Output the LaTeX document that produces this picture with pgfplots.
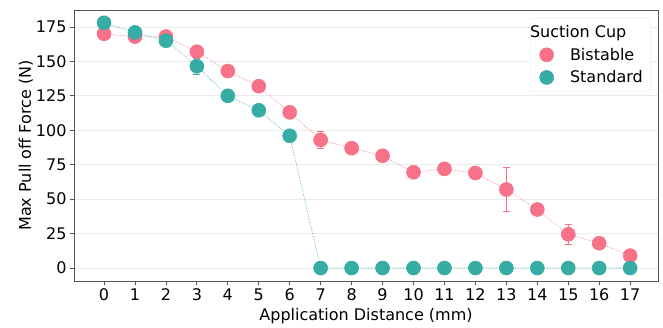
\documentclass[border=0pt]{standalone}
\usepackage{pgfplots}
\pgfplotsset{compat=1.18}
\usepackage{fontspec}
\setmainfont{DejaVu Sans}
\definecolor{cpink}{HTML}{F77189}
\definecolor{cteal}{HTML}{36ADA4}
\definecolor{frame}{HTML}{555555}
\definecolor{gridc}{HTML}{EBEBEB}
\begin{document}
\begin{tikzpicture}
\begin{axis}[
  scale only axis, width=584pt, height=271pt,
  at={(0,0)}, anchor=south west,
  xmin=-0.97, xmax=17.9, ymin=-9.4, ymax=187.3,
  xtick={0,...,17}, ytick={0,25,...,175},
  /pgf/number format/assume math mode=true,
  tick label style={font=\fontsize{16}{18}\selectfont, text=black},
  label style={font=\fontsize{16}{18}\selectfont},
  xlabel={Application Distance (mm)},
  ylabel={Max Pull off Force (N)},
  xlabel style={yshift=-1pt},
  ylabel style={yshift=-4pt},
  axis line style={frame, line width=0.9pt},
  tick style={frame, line width=0.8pt},
  tick align=outside, major tick length=4pt,
  xtick pos=bottom, ytick pos=left,
  ymajorgrids, grid style={gridc, line width=0.8pt},
  legend style={at={(0.988,0.97)}, anchor=north east, draw=gridc, rounded corners=3pt,
    font=\fontsize{16}{18}\selectfont, row sep=5pt, inner xsep=6pt, inner ysep=5pt},
  legend cell align=left,
  legend image code/.code={\path[draw=none] (-0.1cm,0) -- (1.0cm,0); \fill[#1,solid] (0.25cm,0) circle (7pt);},
]
\addlegendimage{empty legend}
\addlegendentry{\hspace*{-40pt}Suction Cup}
\addplot[cpink, densely dotted, line width=0.6pt,
  mark=*, mark size=7pt, mark options={solid, fill=cpink, draw=cpink},
  error bars/.cd, y dir=both, y explicit,
  error bar style={cpink, solid, line width=0.8pt},
  error mark options={rotate=90, mark size=3.5pt, cpink, solid}]
coordinates {
(0,170) +- (0,0.5)
(1,168) +- (0,1)
(2,168) +- (0,1)
(3,157) +- (0,1.5)
(4,143) +- (0,1)
(5,132) +- (0,1)
(6,113) +- (0,1)
(7,93) +- (0,6)
(8,87) +- (0,4)
(9,81.5) +- (0,1)
(10,69.5) +- (0,1)
(11,72) +- (0,1)
(12,69) +- (0,1)
(13,57) +- (0,16)
(14,42.5) +- (0,1)
(15,24.5) +- (0,7)
(16,18) +- (0,1)
(17,9) +- (0,1)
};
\addlegendentry{Bistable}
\addplot[cteal, densely dotted, line width=0.6pt,
  mark=*, mark size=7pt, mark options={solid, fill=cteal, draw=cteal},
  error bars/.cd, y dir=both, y explicit,
  error bar style={cteal, solid, line width=0.8pt},
  error mark options={rotate=90, mark size=3.5pt, cteal, solid}]
coordinates {
(0,178) +- (0,0.5)
(1,171) +- (0,1)
(2,165) +- (0,3)
(3,146.5) +- (0,6)
(4,125) +- (0,1)
(5,114.5) +- (0,1)
(6,96) +- (0,1)
(7,0) +- (0,0)
(8,0) +- (0,0)
(9,0) +- (0,0)
(10,0) +- (0,0)
(11,0) +- (0,0)
(12,0) +- (0,0)
(13,0) +- (0,0)
(14,0) +- (0,0)
(15,0) +- (0,0)
(16,0) +- (0,0)
(17,0) +- (0,0)
};
\addlegendentry{Standard}
\end{axis}
\path[use as bounding box] (-74pt,-43pt) rectangle (589pt,281pt);
\end{tikzpicture}
\end{document}
